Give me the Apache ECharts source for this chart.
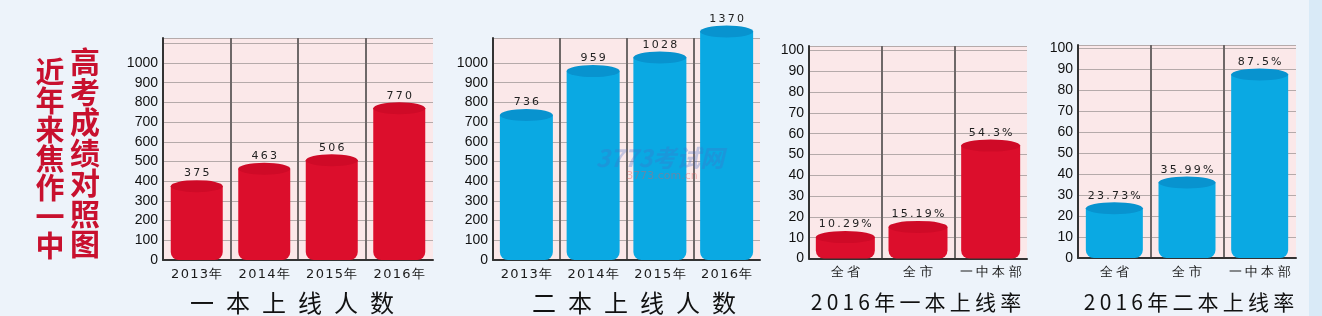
<!DOCTYPE html>
<html><head><meta charset="utf-8">
<script src="https://cdn.jsdelivr.net/npm/echarts@6/dist/echarts.min.js"></script>
<style>html,body{margin:0;padding:0;background:#edf3fa}#c{width:1322px;height:316px}</style>
</head><body><div id="c"></div><script>
// ---- data ----
const yearCats = ['2013年', '2014年', '2015年', '2016年'];
const tier1Counts = [375, 463, 506, 770];
const tier2Counts = [736, 959, 1028, 1370];
const rateCats = ['全省', '全市', '一中本部'];
const tier1Rates = [10.29, 15.19, 54.3];
const tier2Rates = [23.73, 35.99, 87.5];
const tier1RateLabels = ['10.29%', '15.19%', '54.3%'];
const tier2RateLabels = ['23.73%', '35.99%', '87.5%'];
const countTicksMax = 1000;
const rateTicksMax = 100;
const chartTitles = ['一本上线人数', '二本上线人数', '2016年一本上线率', '2016年二本上线率'];
const sideTitleA = '近年来焦作一中';
const sideTitleB = '高考成绩对照图';
const watermarkA = '3773考试网';
const watermarkB = '3773.com.cn';

// ---- helpers ----
const sp = (s, sep) => s.split('').join(sep);
const RED = '#dc0e2c', RED_CAP = '#cf0a27', BLUE = '#0aa9e3', BLUE_CAP = '#0893cf';

const grids = [
  { left: 163, top: 38, width: 270, height: 222 },
  { left: 490, top: 38, width: 270, height: 222 },
  { left: 809, top: 46, width: 218, height: 212.5 },
  { left: 1078, top: 45, width: 218, height: 213 }
];

function xAx(idx, cats, fs, sepc) {
  const n = cats.length;
  const cols = [];
  for (let i = 0; i <= n; i++) cols.push(i === n ? 'rgba(0,0,0,0)' : '#6e6868');
  return {
    type: 'category', gridIndex: idx, data: cats, boundaryGap: true,
    axisTick: { show: false, interval: 0 },
    axisLine: { lineStyle: { color: '#333', width: 2 } },
    splitLine: { show: true, interval: 0, lineStyle: { color: cols, width: 2 } },
    axisLabel: { interval: 0, margin: 8, color: '#1a1a1a', fontSize: fs, fontFamily: 'DejaVu Sans',
      formatter: v => sp(v, sepc) }
  };
}
function yAx(idx, max, interval, labelMax, extra) {
  return Object.assign({
    type: 'value', gridIndex: idx, min: 0, max: max, interval: interval,
    axisLine: { show: true, lineStyle: { color: '#333', width: 2 } },
    axisTick: { show: false },
    splitLine: { show: true, lineStyle: { color: '#b5aaaa', width: 1 } },
    axisLabel: { margin: 5, color: '#111', fontSize: 14, fontFamily: 'Liberation Sans',
      formatter: v => (v <= labelMax && Math.abs(v - Math.round(v)) < 1e-6) ? String(v) : '' }
  }, extra || {});
}
function cyl(idx, data, labels, W, body, cap) {
  return [
    { type: 'bar', xAxisIndex: idx, yAxisIndex: idx, data: data, barWidth: W, clip: false, z: 2,
      itemStyle: { color: body, borderRadius: [0, 0, 8, 8] },
      label: { show: true, position: 'top', distance: 7, color: '#222', fontSize: 11,
        fontFamily: 'DejaVu Sans', formatter: p => sp(labels[p.dataIndex], '\u2009') } },
    { type: 'pictorialBar', xAxisIndex: idx, yAxisIndex: idx, data: data, z: 3,
      symbol: 'circle', symbolSize: [W, 12], symbolPosition: 'end', symbolOffset: [0, '-50%'],
      itemStyle: { color: cap } }
  ];
}

const titleGraphics = [
  { x: 292, y: 303, text: sp(chartTitles[0], '\u2002'), size: 24 },
  { x: 634, y: 303, text: sp(chartTitles[1], '\u2002'), size: 24 },
  { x: 916, y: 302, text: sp(chartTitles[2], '\u2009'), size: 21 },
  { x: 1189, y: 302, text: sp(chartTitles[3], '\u2009'), size: 21 }
].map(t => ({ type: 'text', x: t.x, y: t.y, z: 10,
  style: { text: t.text, fill: '#111', font: t.size + 'px "Noto Sans CJK SC"', align: 'center', verticalAlign: 'middle' } }));

const chart = echarts.init(document.getElementById('c'), null, { renderer: 'canvas' });
chart.setOption({
  backgroundColor: '#edf3fa',
  animation: false,
  grid: grids.map(g => Object.assign({ show: true, backgroundColor: '#fbe8e9', borderWidth: 0 }, g)),
  xAxis: [xAx(0, yearCats, 13, '\u200a'), xAx(1, yearCats, 13, '\u200a'), xAx(2, rateCats, 13, '\u2005'), xAx(3, rateCats, 13, '\u2005')],
  yAxis: [
    yAx(0, 1127, 100, countTicksMax),
    yAx(1, 1337, 100, countTicksMax, { breaks: [{ start: 1120, end: 1330, gap: 0 }], breakArea: { show: false } }),
    yAx(2, 102.2, 10, rateTicksMax),
    yAx(3, 101.6, 10, rateTicksMax)
  ],
  series: [].concat(
    cyl(0, tier1Counts, tier1Counts.map(String), 52, RED, RED_CAP),
    cyl(1, tier2Counts, tier2Counts.map(String), 53, BLUE, BLUE_CAP),
    cyl(2, tier1Rates, tier1RateLabels, 59, RED, RED_CAP),
    cyl(3, tier2Rates, tier2RateLabels, 57, BLUE, BLUE_CAP)
  ),
  graphic: [
    { type: 'rect', shape: { x: 1309, y: 0, width: 13, height: 316 }, style: { fill: '#d9eaf7' }, z: -1 },
    { type: 'text', x: 50, y: 57, z: 10, style: { text: sideTitleA.split('').join('\n'), fill: '#c8102e',
      font: 'bold 29px "Noto Sans CJK SC"', lineHeight: 29, align: 'center' } },
    { type: 'text', x: 85, y: 46, z: 10, style: { text: sideTitleB.split('').join('\n'), fill: '#c8102e',
      font: 'bold 30px "Noto Sans CJK SC"', lineHeight: 30.4, align: 'center' } },
    { type: 'text', x: 660, y: 158, z: 20, style: { text: watermarkA, fill: 'rgba(70,110,200,0.3)',
      font: 'italic bold 24px "Noto Sans CJK SC"', align: 'center', verticalAlign: 'middle' } },
    { type: 'text', x: 662, y: 176, z: 20, style: { text: watermarkB, fill: 'rgba(230,90,90,0.4)',
      font: '11px "DejaVu Sans"', align: 'center', verticalAlign: 'middle' } }
  ].concat(titleGraphics)
});
</script></body></html>
